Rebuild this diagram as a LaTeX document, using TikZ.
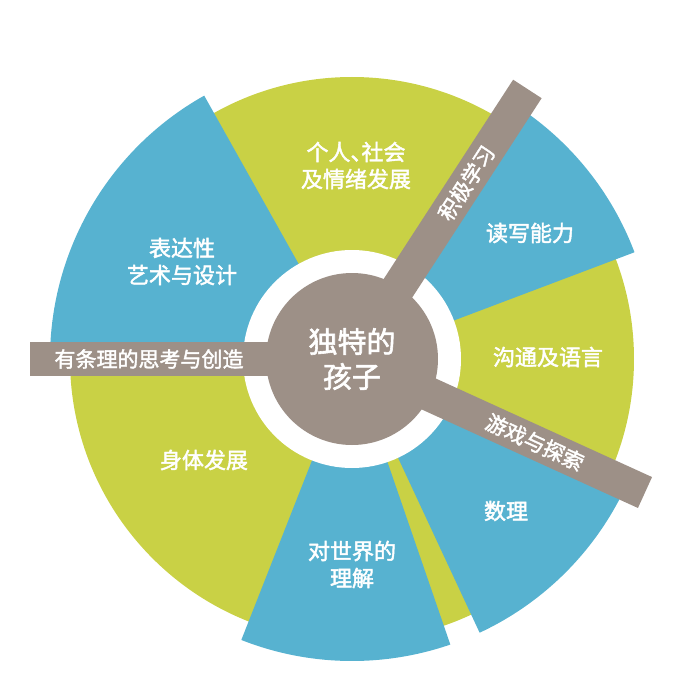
\documentclass[tikz,border=0pt]{standalone}
\usepackage{fontspec}
\setmainfont{Noto Sans CJK SC}[RawFeature={embolden=2}]
\definecolor{WheelGreen}{HTML}{C9D145}
\definecolor{WheelBlue}{HTML}{57B2D0}
\definecolor{HubGray}{HTML}{9D9087}

\begin{document}
\begin{tikzpicture}[x=1pt, y=1pt,
  segtext/.style={text=white, font=\fontsize{22}{27}\selectfont, align=center, inner sep=0pt},
  bartext/.style={segtext, font=\fontsize{21}{25}\selectfont}]

% ============================================================
% Frame: centre of the wheel at (0,0)
% ============================================================
\useasboundingbox (-352,-327) rectangle (325,359);

% Green base disk
\fill[WheelGreen] (0,0) circle (282);

% Blue sectors (stick out past the green rim)
\foreach \a/\b in {119.3/180, 20.7/57, 295/335.5, 248.5/289}{%
  \fill[WheelBlue] (0,0) -- (\a:302) arc[start angle=\a, end angle=\b, radius=302] -- cycle;
}

% White ring round the hub
\fill[white] (0,0) circle (109);

% Spokes
\foreach \ang in {57, 180, 335.5}{%
  \fill[HubGray, rotate=\ang] (0,-17) rectangle (322,17);
}

% Hub
\fill[HubGray] (0,0) circle (86);

% ============================================================
% Labels
% ============================================================
\node[segtext, font=\fontsize{29}{35}\selectfont] (hub) at (0,0) {独特的\\孩子};

\node[segtext] (social) at (4,193.5) {个人、\kern-0.5em社会\\及情绪发展};
\node[segtext] (arts) at (-170,97.5) {表达性\\艺术与设计};
\node[segtext] (literacy) at (178,126) {读写能力};
\node[segtext] (language) at (196,2) {沟通及语言};
\node[segtext] (maths) at (154,-152) {数理};
\node[segtext] (world) at (0,-205.5) {对世界的\\理解};
\node[segtext] (physical) at (-148,-101) {身体发展};

% Spoke labels
\node[bartext] (thinking) at (180:203) {有条理的思考与创造};
\node[bartext, rotate=57] (active) at (57:210) {积极学习};
\node[bartext, rotate=-24.5] (play) at (-24.5:201) {游戏与探索};

\end{tikzpicture}
\end{document}
